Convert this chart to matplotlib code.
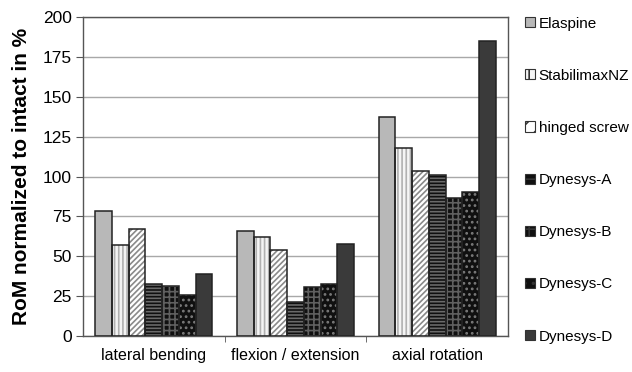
import numpy as np
import matplotlib
matplotlib.use('Agg')
import matplotlib.pyplot as plt
from matplotlib.patches import Patch

plt.rcParams['font.family'] = ['Liberation Sans', 'DejaVu Sans']
plt.rcParams['hatch.linewidth'] = 1.2

categories = ['lateral bending', 'flexion / extension', 'axial rotation']
series = ['Elaspine', 'StabilimaxNZ', 'hinged screw', 'Dynesys-A', 'Dynesys-B', 'Dynesys-C', 'Dynesys-D']
values = {
    'Elaspine':     [78.6, 65.8, 137.5],
    'StabilimaxNZ': [56.8, 61.9, 117.7],
    'hinged screw': [66.9, 53.9, 103.6],
    'Dynesys-A':    [32.6, 21.5, 100.9],
    'Dynesys-B':    [31.3, 30.9, 86.7],
    'Dynesys-C':    [25.9, 32.6, 90.5],
    'Dynesys-D':    [38.7, 57.5, 185.1],
}

# face colour, hatch, hatch colour
styles = {
    'Elaspine':     ('#b8b8b8', '', '#b8b8b8'),
    'StabilimaxNZ': ('#f4f4f4', '||||', '#b0b0b0'),
    'hinged screw': ('white', '//////', '#8a8a8a'),
    'Dynesys-A':    ('#101010', '-----', '#6a6a6a'),
    'Dynesys-B':    ('#101010', '+++', '#606060'),
    'Dynesys-C':    ('#101010', '...', '#7a7a7a'),
    'Dynesys-D':    ('#3a3a3a', '', '#3a3a3a'),
}

fig = plt.figure(figsize=(6.32, 3.72), dpi=100)
ax = fig.add_axes([0.131, 0.097, 0.673, 0.857])

x = np.arange(len(categories))
n = len(series)
group = 0.826
w = group / n

handles = []
for i, s in enumerate(series):
    fc, hatch, hc = styles[s]
    pos = x - group / 2 + w * (i + 0.5)
    ax.bar(pos, values[s], w, color=fc, hatch=hatch, edgecolor=hc, linewidth=0, zorder=2)
    ax.bar(pos, values[s], w, fill=False, edgecolor='#222222', linewidth=1.1, zorder=3)
    handles.append(Patch(facecolor=fc, hatch=hatch[:2], edgecolor='#333333', linewidth=0.8, label=s))

ax.set_ylim(0, 200)
ax.set_xlim(-0.5, len(categories) - 0.5)
ax.set_yticks(np.arange(0, 201, 25))
ax.yaxis.grid(True, color='#a8a8a8', linewidth=1.0, zorder=0)
ax.set_axisbelow(True)
ax.set_xticks(x)
ax.set_xticklabels(categories, fontsize=11.5)
ax.tick_params(axis='x', length=0, pad=9)
ax.set_xticks([0.5, 1.5], minor=True)
ax.tick_params(axis='x', which='minor', length=4, color='#555555')
ax.tick_params(axis='y', labelsize=12.5, length=5, color='#555555', pad=3)
for sp in ax.spines.values():
    sp.set_color('#555555')
    sp.set_linewidth(1.0)
ax.set_ylabel('RoM normalized to intact in %', fontsize=15, fontweight='bold', labelpad=8)

fig.legend(handles=handles, loc='upper left', bbox_to_anchor=(0.821, 0.972),
           frameon=False, fontsize=11, labelspacing=2.5, handlelength=0.65,
           handleheight=0.65, handletextpad=0.25, borderaxespad=0)

fig.savefig('out.png', dpi=100)
